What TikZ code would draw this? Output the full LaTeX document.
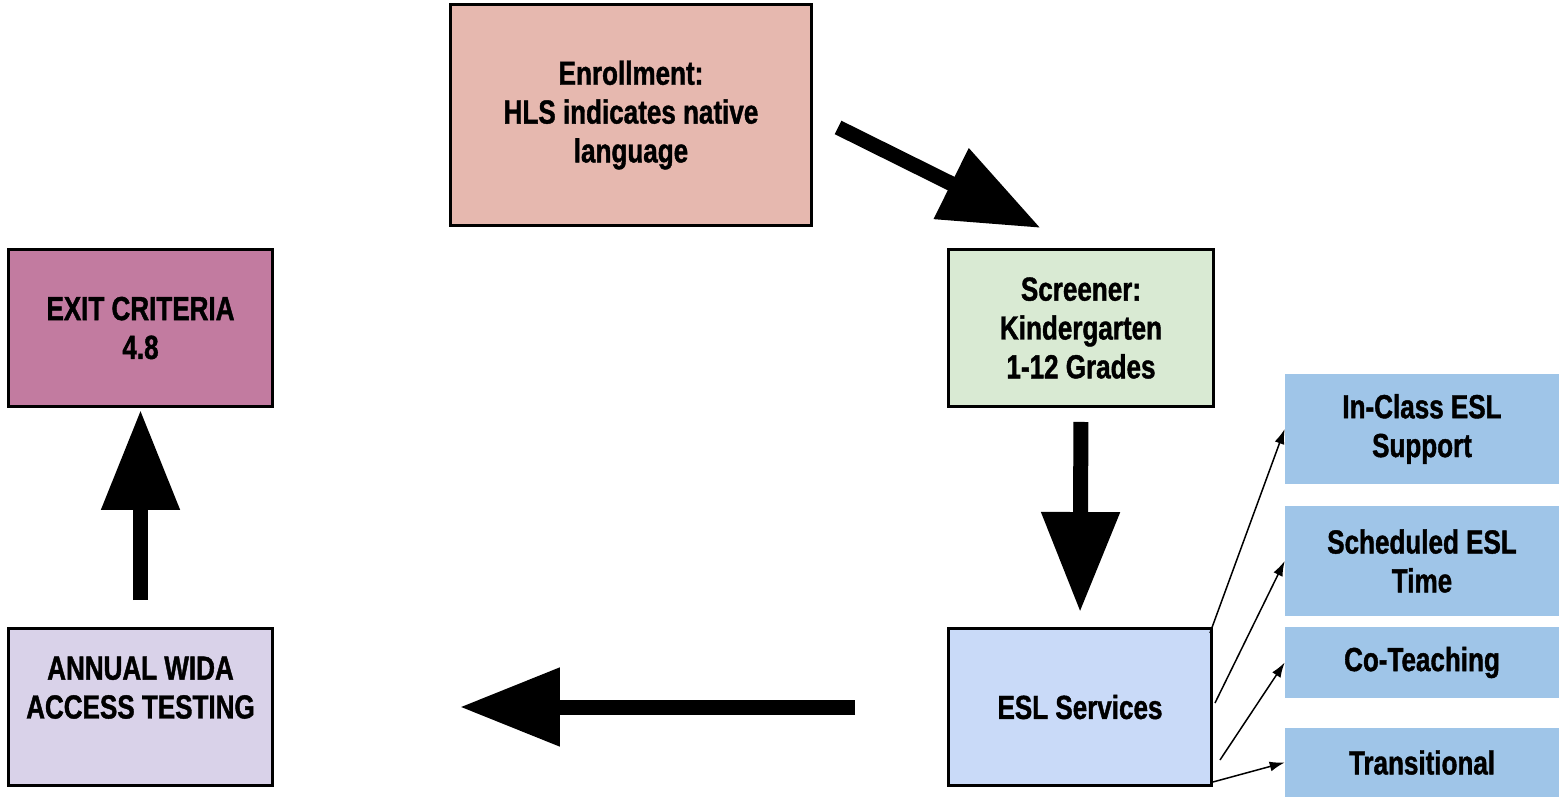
\documentclass[tikz,border=0pt]{standalone}
\usepackage{fontspec}
\setmainfont{Liberation Sans}[FakeStretch=0.8]
\usetikzlibrary{arrows.meta,calc,positioning}
\definecolor{enrollfill}{HTML}{E6B8AF}
\definecolor{screenfill}{HTML}{D9EAD3}
\definecolor{eslfill}{HTML}{C9DAF8}
\definecolor{exitfill}{HTML}{C27BA0}
\definecolor{widafill}{HTML}{D9D2E9}
\definecolor{optfill}{HTML}{9FC5E8}
\newfontfamily\boxfont{Liberation Sans Bold}[FakeStretch=0.78,FakeBold=1.2]
\tikzset{
  stepbox/.style={draw=black, line width=0.06cm, align=center, inner sep=0pt,
    font=\boxfont\fontsize{19}{22.1}\selectfont},
  optbox/.style={fill=optfill, align=center, inner sep=0pt, minimum width=5.48cm,
    font=\boxfont\fontsize{19}{22.1}\selectfont},
  bigarrow/.style={line width=0.3cm, -{Triangle[length=2cm,width=1.5cm]}},
  thinarrow/.style={line width=0.03cm, -{Latex[length=0.3cm,width=0.2cm]}}
}

\begin{document}
\begin{tikzpicture}[x=0.02cm,y=-0.02cm]
  \useasboundingbox (0,0) rectangle (1561,797);
  % main steps
  \node[stepbox, fill=enrollfill, minimum width=7.22cm, minimum height=4.42cm] (enroll) at (631,115) {Enrollment:\\HLS indicates native\\language};
  \node[stepbox, fill=screenfill, minimum width=5.30cm, minimum height=3.14cm] (screen) at (1081,328) {Screener:\\Kindergarten\\1-12 Grades};
  \node[stepbox, fill=eslfill, minimum width=5.26cm, minimum height=3.14cm] (esl) at (1080,707) {ESL Services};
  \node[stepbox, fill=exitfill, minimum width=5.28cm, minimum height=3.14cm] (exit) at (140.5,328) {EXIT CRITERIA\\4.8};
  \node[stepbox, fill=widafill, minimum width=5.28cm, minimum height=3.14cm] (wida) at (140.5,707) {ANNUAL WIDA\\ACCESS TESTING\\ };
  % service options
  \node[optbox, minimum height=2.2cm] (inclass) at (1422,429) {In-Class ESL\\Support};
  \node[optbox, minimum height=2.2cm] (sched) at (1422,561) {Scheduled ESL\\Time};
  \node[optbox, minimum height=1.42cm] (coteach) at (1422,662.5) {Co-Teaching};
  \node[optbox, minimum height=1.38cm] (trans) at (1422,762.5) {Transitional};
  % cycle
  \draw[bigarrow, shorten <=0.56cm, shorten >=0.9cm] (enroll.east) -- (screen.north);
  \draw[bigarrow, shorten <=0.28cm, shorten >=0.3cm] (screen.south) -- (esl.north);
  \draw[bigarrow, shorten <=1.84cm, shorten >=3.72cm] (esl.west) -- (wida.east);
  \draw[bigarrow, shorten <=0.54cm, shorten >=0.04cm] (wida.north) -- (exit.south);
  % options
  \draw[thinarrow] ($(esl.north east)+(-3,6)$) -- (inclass.west);
  \draw[thinarrow] ($(esl.east)+(2,-4)$) -- (sched.west);
  \draw[thinarrow] ($(esl.east)+(7,53)$) -- (coteach.west);
  \draw[thinarrow] ($(esl.south east)+(0,-5)$) -- (trans.west);
\end{tikzpicture}
\end{document}
